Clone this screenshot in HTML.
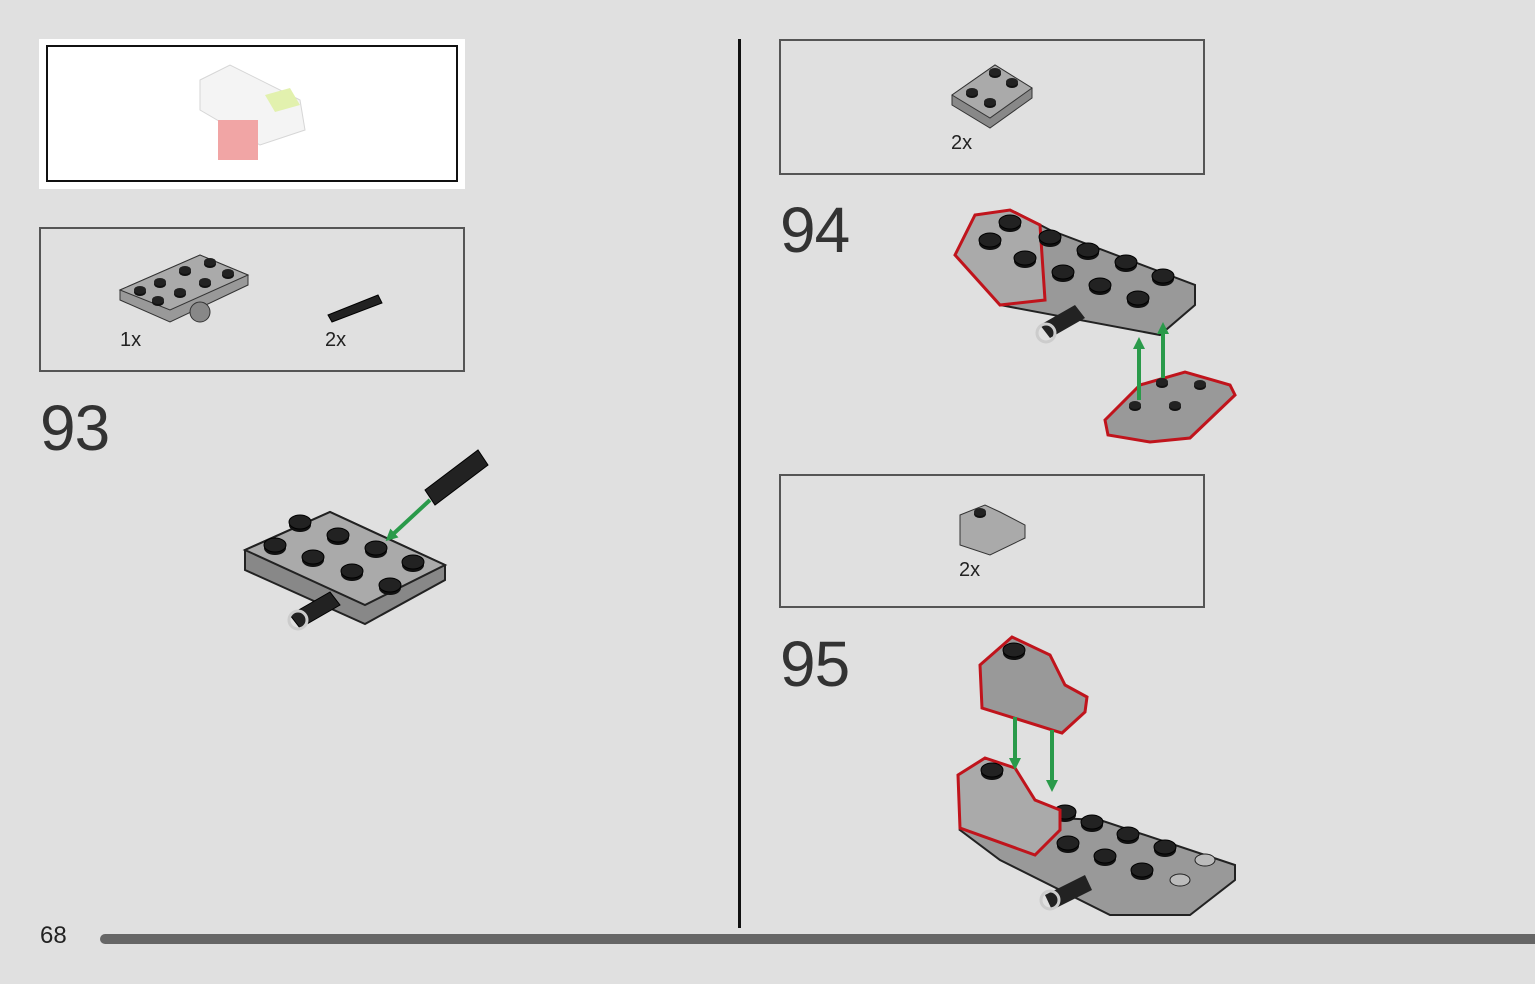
<!DOCTYPE html>
<html><head><meta charset="utf-8"><style>
html,body{margin:0;padding:0;background:#e0e0e0;}
body{width:1535px;height:984px;position:relative;overflow:hidden;font-family:"Liberation Sans",sans-serif;}
.box{position:absolute;border:2px solid #555;box-sizing:border-box;}
.num{position:absolute;font-size:64px;color:#333;font-weight:300;letter-spacing:-1px;line-height:1;}
.lbl{position:absolute;font-size:20px;color:#222;}
svg{position:absolute;left:0;top:0;}
</style></head><body>
<div style="position:absolute;left:39px;top:39px;width:426px;height:150px;background:#fff;"></div>
<div style="position:absolute;left:46px;top:45px;width:412px;height:137px;border:2px solid #111;box-sizing:border-box;"></div>
<div class="box" style="left:39px;top:227px;width:426px;height:145px;"></div>
<div class="box" style="left:779px;top:39px;width:426px;height:136px;"></div>
<div class="box" style="left:779px;top:474px;width:426px;height:134px;"></div>
<div style="position:absolute;left:738px;top:39px;width:3px;height:889px;background:#111;"></div>
<div style="position:absolute;left:100px;top:934px;width:1440px;height:10px;background:#666;border-radius:5px;"></div>
<div class="num" style="left:40px;top:396px;">93</div>
<div class="num" style="left:780px;top:198px;">94</div>
<div class="num" style="left:780px;top:632px;">95</div>
<div class="lbl" style="left:40px;top:922px;font-size:24px;">68</div>
<div class="lbl" style="left:120px;top:329px;">1x</div>
<div class="lbl" style="left:325px;top:329px;">2x</div>
<div class="lbl" style="left:951px;top:132px;">2x</div>
<div class="lbl" style="left:959px;top:559px;">2x</div>
<svg width="1535" height="984" viewBox="0 0 1535 984">
<defs>
<g id="stud"><ellipse cx="0" cy="3" rx="11" ry="7" fill="#111"/><ellipse cx="0" cy="0" rx="11" ry="7" fill="#222" stroke="#000"/></g>
<g id="sstud"><ellipse cx="0" cy="2" rx="6" ry="4" fill="#111"/><ellipse cx="0" cy="0" rx="6" ry="4" fill="#222"/></g>
<marker id="ah" markerUnits="userSpaceOnUse" markerWidth="12" markerHeight="12" refX="6" refY="6" orient="auto"><path d="M0,0 L12,6 L0,12 z" fill="#2a9a4a"/></marker>
</defs>
<g opacity="0.6">
<path d="M200 80 L230 65 L300 100 L305 130 L260 145 L200 110 Z" fill="#eee" stroke="#bbb"/>
<path d="M265 95 L290 88 L300 105 L275 112 Z" fill="#cfe87a"/>
<rect x="218" y="120" width="40" height="40" fill="#e86a6a"/>
</g>
<path d="M120 290 L200 255 L248 275 L248 285 L170 322 L120 300 Z" fill="#999" stroke="#333"/>
<path d="M120 290 L200 255 L248 275 L170 310 Z" fill="#aaa" stroke="#333"/>
<circle cx="200" cy="312" r="10" fill="#888" stroke="#333"/>
<use href="#sstud" x="140" y="290"/><use href="#sstud" x="160" y="282"/><use href="#sstud" x="185" y="270"/><use href="#sstud" x="210" y="262"/>
<use href="#sstud" x="158" y="300"/><use href="#sstud" x="180" y="292"/><use href="#sstud" x="205" y="282"/><use href="#sstud" x="228" y="273"/>
<path d="M328 315 L378 295 L382 303 L332 322 Z" fill="#222" stroke="#000"/>
<path d="M245 550 L330 512 L445 565 L445 580 L365 624 L245 570 Z" fill="#888" stroke="#222" stroke-width="2"/>
<path d="M245 550 L330 512 L445 565 L365 605 Z" fill="#aaa" stroke="#222" stroke-width="2"/>
<use href="#stud" x="300" y="522"/><use href="#stud" x="338" y="535"/><use href="#stud" x="376" y="548"/><use href="#stud" x="413" y="562"/>
<use href="#stud" x="275" y="545"/><use href="#stud" x="313" y="557"/><use href="#stud" x="352" y="571"/><use href="#stud" x="390" y="585"/>
<path d="M290 615 L330 592 L340 605 L300 628 Z" fill="#222" stroke="#000"/>
<circle cx="298" cy="620" r="9" fill="none" stroke="#ccc" stroke-width="3"/>
<path d="M425 490 L478 450 L488 465 L435 505 Z" fill="#222" stroke="#000"/>
<line x1="430" y1="500" x2="390" y2="537" stroke="#2a9a4a" stroke-width="4" marker-end="url(#ah)"/>
<path d="M952 95 L995 65 L1032 88 L1032 98 L990 128 L952 105 Z" fill="#888" stroke="#333"/>
<path d="M952 95 L995 65 L1032 88 L990 118 Z" fill="#aaa" stroke="#333"/>
<use href="#sstud" x="972" y="92"/><use href="#sstud" x="990" y="102"/><use href="#sstud" x="995" y="72"/><use href="#sstud" x="1012" y="82"/>
<path d="M955 255 L975 215 L1015 212 L1050 230 L1195 285 L1195 305 L1160 335 L1000 305 Z" fill="#999" stroke="#222" stroke-width="2"/>
<path d="M955 255 L975 215 L1010 210 L1040 225 L1045 300 L1000 305 Z" fill="#aaa" stroke="#c0141c" stroke-width="3"/>
<use href="#stud" x="990" y="240"/><use href="#stud" x="1010" y="222"/>
<use href="#stud" x="1050" y="237"/><use href="#stud" x="1088" y="250"/><use href="#stud" x="1126" y="262"/><use href="#stud" x="1163" y="276"/>
<use href="#stud" x="1025" y="258"/><use href="#stud" x="1063" y="272"/><use href="#stud" x="1100" y="285"/><use href="#stud" x="1138" y="298"/>
<path d="M1040 325 L1075 305 L1085 318 L1050 338 Z" fill="#222"/>
<circle cx="1046" cy="333" r="9" fill="none" stroke="#ccc" stroke-width="3"/>
<path d="M1105 420 L1140 385 L1185 372 L1230 385 L1235 395 L1190 438 L1150 442 L1108 435 Z" fill="#999" stroke="#c0141c" stroke-width="3"/>
<use href="#sstud" x="1135" y="405"/><use href="#sstud" x="1162" y="382"/><use href="#sstud" x="1175" y="405"/><use href="#sstud" x="1200" y="384"/>
<line x1="1139" y1="400" x2="1139" y2="343" stroke="#2a9a4a" stroke-width="4" marker-end="url(#ah)"/>
<line x1="1163" y1="378" x2="1163" y2="328" stroke="#2a9a4a" stroke-width="4" marker-end="url(#ah)"/>
<path d="M960 515 L985 505 L1000 512 L1025 525 L1025 538 L990 555 L960 545 Z" fill="#aaa" stroke="#333"/>
<use href="#sstud" x="980" y="512"/>
<path d="M960 830 L990 815 L1100 820 L1235 865 L1235 880 L1190 915 L1110 915 L1000 860 Z" fill="#999" stroke="#222" stroke-width="2"/>
<use href="#stud" x="1065" y="812"/><use href="#stud" x="1092" y="822"/><use href="#stud" x="1128" y="834"/><use href="#stud" x="1165" y="847"/>
<use href="#stud" x="1068" y="843"/><use href="#stud" x="1105" y="856"/><use href="#stud" x="1142" y="870"/>
<ellipse cx="1180" cy="880" rx="10" ry="6" fill="#bbb" stroke="#222"/><ellipse cx="1205" cy="860" rx="10" ry="6" fill="#bbb" stroke="#222"/>
<path d="M1045 895 L1085 875 L1092 890 L1052 910 Z" fill="#222"/>
<circle cx="1050" cy="900" r="9" fill="none" stroke="#ccc" stroke-width="3"/>
<path d="M958 775 L985 758 L1015 768 L1035 800 L1060 810 L1060 830 L1035 855 L960 828 Z" fill="#aaa" stroke="#c0141c" stroke-width="3"/>
<use href="#stud" x="992" y="770"/>
<path d="M980 665 L1012 637 L1050 655 L1065 685 L1087 697 L1085 712 L1062 733 L982 708 Z" fill="#999" stroke="#c0141c" stroke-width="3"/>
<use href="#stud" x="1014" y="650"/>
<line x1="1015" y1="717" x2="1015" y2="764" stroke="#2a9a4a" stroke-width="4" marker-end="url(#ah)"/>
<line x1="1052" y1="730" x2="1052" y2="786" stroke="#2a9a4a" stroke-width="4" marker-end="url(#ah)"/>
</svg>
</body></html>
